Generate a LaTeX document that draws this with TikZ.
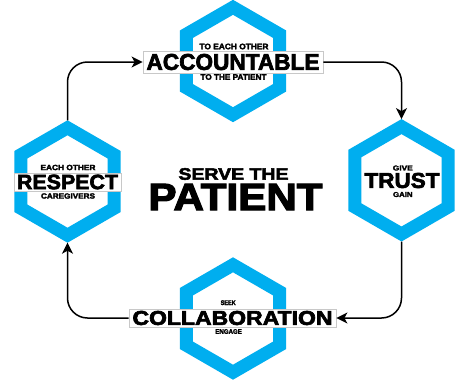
\documentclass[tikz,border=0pt]{standalone}
\usepackage{fontspec}
\setmainfont{Liberation Sans}[BoldFeatures={FakeBold=3}]
\usetikzlibrary{arrows.meta}
\definecolor{hexblue}{RGB}{0,174,239}
\definecolor{boxgray}{RGB}{200,200,200}
\newcommand{\fitt}[3]{\resizebox{#1pt}{#2pt}{\bfseries #3}}
\begin{document}
\begin{tikzpicture}[x=1pt,y=-1pt,
  hexa/.style={draw=hexblue, line width=13pt, fill=white, line join=miter},
  txt/.style={inner sep=0pt},
  bigbox/.style={draw=boxgray, line width=0.8pt, fill=white, inner sep=0pt},
  conn/.style={line width=1.5pt, rounded corners=20pt, -{Stealth[length=11pt,width=11pt,inset=3pt]}}]
\fill[white] (0,0) rectangle (458,383);
\useasboundingbox (0,0) rectangle (458,383);
% hexagons
\foreach \cx/\cy in {233/61, 401.5/180.3, 233/318.5, 67.5/181.5}{
  \draw[hexa] (\cx,\cy) +(90:53.7) -- +(150:53.7) -- +(210:53.7) -- +(270:53.7) -- +(330:53.7) -- +(30:53.7) -- cycle;
}
\coordinate (Dtop) at (67.5,120.3);
\coordinate (Dbot) at (67.5,242.7);
\coordinate (Btop) at (401.5,119.1);
\coordinate (Bbot) at (401.5,241.5);
% text
\node[bigbox, minimum width=180pt, minimum height=22pt] (acc) at (233,62) {\fitt{173}{16}{ACCOUNTABLE}};
\node[txt] (accT) at (234,46.5) {\fitt{69}{5.6}{TO EACH OTHER}};
\node[txt] (accB) at (233.5,77) {\fitt{66}{5.6}{TO THE PATIENT}};

\node[bigbox, minimum width=107pt, minimum height=18pt] (res) at (67.5,182) {\fitt{101}{14.5}{RESPECT}};
\node[txt] (resT) at (68,167.5) {\fitt{55}{5.3}{EACH OTHER}};
\node[txt] (resB) at (68,196) {\fitt{54}{5.3}{CAREGIVERS}};

\node[txt] (tru) at (402,180.5) {\fitt{75}{15}{TRUST}};
\node[txt] (truT) at (402.8,168) {\fitt{20}{5}{GIVE}};
\node[txt] (truB) at (402.8,194.5) {\fitt{19.5}{5}{GAIN}};

\node[bigbox, minimum width=207pt, minimum height=18pt] (col) at (232.5,318) {\fitt{200}{14}{COLLABORATION}};
\node[txt] (colT) at (228.2,302.7) {\fitt{15}{4.7}{SEEK}};
\node[txt] (colB) at (228.6,331.5) {\fitt{26.5}{4.7}{ENGAGE}};

\node[txt] (srv) at (233.5,174) {\fitt{110}{11.5}{SERVE THE}};
\node[txt] (pat) at (235.5,197) {\fitt{174}{26.3}{PATIENT}};
% connectors
\draw[conn] (Dtop) |- (acc.west);
\draw[conn] (acc.east) -| (Btop);
\draw[conn] (Bbot) |- (col.east);
\draw[conn] (col.west) -| (Dbot);
\end{tikzpicture}
\end{document}
